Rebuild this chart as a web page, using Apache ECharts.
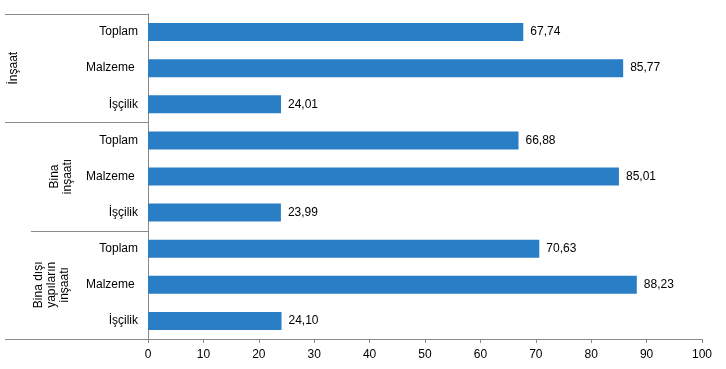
<!DOCTYPE html>
<html><head><meta charset="utf-8">
<script src="https://cdn.jsdelivr.net/npm/echarts@6/dist/echarts.min.js"></script>
<style>html,body{margin:0;padding:0;background:#fff}#c{width:726px;height:369px}</style>
</head><body><div id="c"></div>
<script>
const categories = ['Toplam','Malzeme ','İşçilik','Toplam','Malzeme ','İşçilik','Toplam','Malzeme ','İşçilik'];
const values = [67.74, 85.77, 24.01, 66.88, 85.01, 23.99, 70.63, 88.23, 24.10];
const groups = ['İnşaat', 'Bina\ninşaatı', 'Bina dışı\nyapıların\ninşaatı'];
const groupSize = 3;
const xTicks = [0,10,20,30,40,50,60,70,80,90,100];

const FONT = 'Liberation Sans, Arial, sans-serif';
const chart = echarts.init(document.getElementById('c'));
chart.setOption({
  animation: false,
  grid: {left: 148, right: 24, top: 14, bottom: 30, containLabel: false},
  xAxis: {
    type: 'value', min: xTicks[0], max: xTicks[xTicks.length-1], interval: 10,
    splitLine: {show: false},
    axisLine: {show: true, lineStyle: {color: '#898989', width: 1}},
    axisTick: {show: true, length: 4, lineStyle: {color: '#898989'}},
    axisLabel: {color: '#000', fontFamily: FONT, fontSize: 12, margin: 10}
  },
  yAxis: {
    type: 'category', inverse: true, data: categories,
    axisLine: {show: true, lineStyle: {color: '#898989', width: 1}},
    axisTick: {show: false},
    axisLabel: {color: '#000', fontFamily: FONT, fontSize: 12, margin: 10}
  },
  series: [{
    type: 'bar', data: values, barWidth: 18,
    itemStyle: {color: '#2A7EC6'},
    label: {show: true, position: 'right', distance: 7, color: '#000', fontFamily: FONT, fontSize: 12,
      formatter: p => p.value.toFixed(2).replace('.', ',')}
  }]
});

function drawGroups() {
  const step = chart.convertToPixel({yAxisIndex: 0}, 1) - chart.convertToPixel({yAxisIndex: 0}, 0);
  const axisX = chart.convertToPixel({xAxisIndex: 0}, 0);
  const els = [];
  const lineStarts = [5, 5, 31, 5];
  const labelX = [14, 61, 52];
  for (let g = 0; g <= groups.length; g++) {
    const y = Math.round(chart.convertToPixel({yAxisIndex: 0}, g * groupSize) - step / 2) + 0.5;
    els.push({type: 'line', shape: {x1: lineStarts[g], y1: y, x2: axisX, y2: y},
      style: {stroke: '#898989', lineWidth: 1}, silent: true});
  }
  groups.forEach((name, g) => {
    const yc = (chart.convertToPixel({yAxisIndex: 0}, g * groupSize) + chart.convertToPixel({yAxisIndex: 0}, g * groupSize + groupSize - 1)) / 2;
    els.push({type: 'text', x: labelX[g], y: yc, rotation: Math.PI / 2,
      style: {text: name, fill: '#000', font: '12px ' + FONT, align: 'center', verticalAlign: 'middle', lineHeight: 13}});
  });
  chart.setOption({graphic: els});
}
drawGroups();
</script></body></html>
